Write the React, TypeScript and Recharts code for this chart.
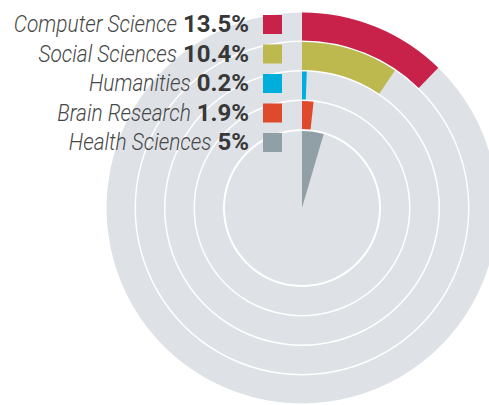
import { RadialBarChart, RadialBar, PolarAngleAxis, Cell } from 'recharts';

const fields = ['Computer Science', 'Social Sciences', 'Humanities', 'Brain Research', 'Health Sciences'];
const shares = [13.5, 10.4, 0.2, 1.9, 5];
const shareLabels = ['13.5%', '10.4%', '0.2%', '1.9%', '5%'];
const colors = ['#c8224a', '#bdb94f', '#00aedb', '#e04a2c', '#919fa6'];

const W = 489;
const H = 405;
const CX = 302;
const CY = 208;
const TRACK = '#dee2e6';
const MAX = 110;

// outer four rings, innermost first (band scale runs inside -> out)
const ringData = fields
  .slice(0, 4)
  .map((name, i) => ({ name, value: shares[i], color: colors[i] }))
  .reverse();
const coreData = [{ name: fields[4], value: shares[4], color: colors[4] }];

const FONT = "Roboto, 'Liberation Sans', sans-serif";
const VALUE_FONT = `bold 24px ${FONT}`;

let ctx: CanvasRenderingContext2D | null = null;
function textWidth(s: string) {
  if (!ctx) ctx = document.createElement('canvas').getContext('2d');
  if (!ctx) return s.length * 13;
  ctx.font = VALUE_FONT;
  return ctx.measureText(s).width;
}

function Rings() {
  return (
    <RadialBarChart
      width={W}
      height={H}
      cx={CX}
      cy={CY}
      innerRadius={78}
      outerRadius={196}
      startAngle={90}
      endAngle={-270}
      barCategoryGap={1}
      data={ringData}
      margin={{ top: 0, right: 0, bottom: 0, left: 0 }}
    >
      <PolarAngleAxis type="number" domain={[0, MAX]} tick={false} axisLine={false} />
      <RadialBar dataKey="value" background={{ fill: TRACK }} minPointSize={2} isAnimationActive={false}>
        {ringData.map((d) => (
          <Cell key={d.name} fill={d.color} />
        ))}
      </RadialBar>
    </RadialBarChart>
  );
}

function Core() {
  return (
    <RadialBarChart
      width={W}
      height={H}
      cx={CX}
      cy={CY}
      innerRadius={0}
      outerRadius={78}
      startAngle={90}
      endAngle={-270}
      barCategoryGap={1}
      data={coreData}
      margin={{ top: 0, right: 0, bottom: 0, left: 0 }}
    >
      <PolarAngleAxis type="number" domain={[0, MAX]} tick={false} axisLine={false} />
      <RadialBar dataKey="value" background={{ fill: TRACK }} isAnimationActive={false}>
        {coreData.map((d) => (
          <Cell key={d.name} fill={d.color} />
        ))}
      </RadialBar>
    </RadialBarChart>
  );
}

function Key() {
  const rowH = 29.5;
  const right = 249;
  return (
    <svg width={W} height={H} style={{ position: 'absolute', left: 0, top: 0 }}>
      {fields.map((f, i) => {
        const y = 32 + i * rowH;
        const nameEnd = right - textWidth(shareLabels[i]) - 6;
        return (
          <g key={f}>
            <text
              transform={`translate(${nameEnd},${y}) scale(0.87,1)`}
              textAnchor="end"
              fontFamily={FONT}
              fontSize={24}
              fontStyle="italic"
              fontWeight={300}
              fill="#474747"
            >
              {f}
            </text>
            <text x={right} y={y} textAnchor="end" fontFamily={FONT} fontSize={24} fontWeight={700} fill="#383838">
              {shareLabels[i]}
            </text>
            <rect x={263} y={15 + i * rowH} width={19} height={19} fill={colors[i]} />
          </g>
        );
      })}
    </svg>
  );
}

export default function App() {
  return (
    <div style={{ position: 'absolute', left: 0, top: 0, width: W, height: H, background: '#fff', overflow: 'hidden' }}>
      <div style={{ position: 'absolute', left: 0, top: 0 }}>
        <Rings />
      </div>
      <div style={{ position: 'absolute', left: 0, top: 0 }}>
        <Core />
      </div>
      <Key />
    </div>
  );
}
